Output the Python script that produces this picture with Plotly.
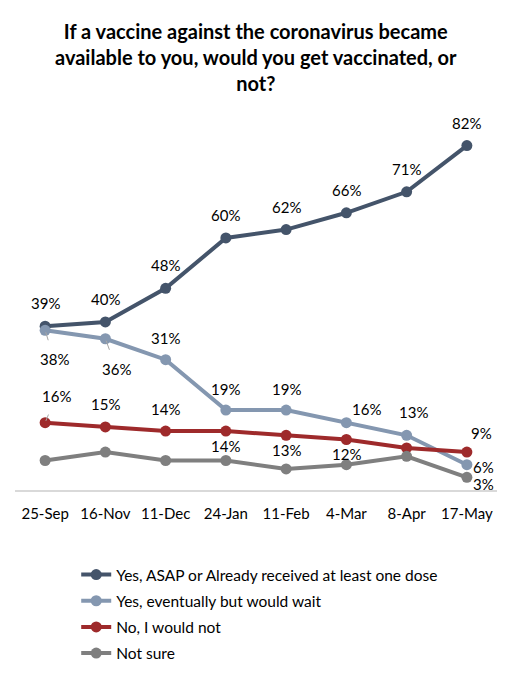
import plotly.graph_objects as go

categories = ["25-Sep", "16-Nov", "11-Dec", "24-Jan", "11-Feb", "4-Mar", "8-Apr", "17-May"]
asap = [39, 40, 48, 60, 62, 66, 71, 82]
eventually = [38, 36, 31, 19, 19, 16, 13, 6]
no_vals = [16, 15, 14, 14, 13, 12, 10, 9]
not_sure = [7, 9, 7, 7, 5, 6, 8, 3]

series_names = ["Yes, ASAP or Already received at least one dose",
                "Yes, eventually but would wait",
                "No, I would not",
                "Not sure"]
series_values = [asap, eventually, no_vals, not_sure]
series_colors = ["#44546A", "#8497B0", "#9E2A2B", "#7F7F7F"]

title_text = ("If a vaccine against the coronavirus became<br>"
              "available to you, would you get vaccinated, or<br>not?")

# which labels are shown per series
label_show = [
    [True] * 8,
    [True] * 8,
    [True, True, True, True, True, True, False, True],
    [False] * 7 + [True],
]
# label offsets in pixels (dx, dy) -- style only
label_offsets = [
    [(0, 23)] * 8,
    [(9, -29), (11, -30), (0, 22), (0, 21), (0, 21), (20, 14), (7, 23), (17, -2)],
    [(11, 27), (0, 23), (0, 22), (0, -15), (0, -15), (0, -14), (0, 0), (15, 19)],
    [(0, 0)] * 7 + [(17, -7)],
]
leader = {(1, 0), (1, 1), (2, 0)}

FONT = "Lato"

fig = go.Figure()
for i, (name, vals, col) in enumerate(zip(series_names, series_values, series_colors)):
    fig.add_trace(go.Scatter(
        x=categories, y=vals, name=name, mode="lines+markers",
        line=dict(color=col, width=4),
        marker=dict(color=col, size=11),
        legendgroup=f"g{i}",
        cliponaxis=False,
    ))

annotations = []
for si, vals in enumerate(series_values):
    for ci, v in enumerate(vals):
        if not label_show[si][ci]:
            continue
        dx, dy = label_offsets[si][ci]
        if (si, ci) in leader:
            annotations.append(dict(
                x=categories[ci], y=v, xref="x", yref="y",
                text=f"{v}%", showarrow=True, ax=dx, ay=-dy,
                arrowhead=0, arrowwidth=1, arrowcolor="#A6A6A6",
                standoff=2, startstandoff=9,
                font=dict(family=FONT, size=15, color="#000000"),
            ))
        else:
            annotations.append(dict(
                x=categories[ci], y=v, xref="x", yref="y",
                text=f"{v}%", showarrow=False, xshift=dx, yshift=dy,
                font=dict(family=FONT, size=15, color="#000000"),
            ))

annotations.append(dict(
    text=title_text, xref="paper", yref="paper", x=0.5, y=1.172,
    xanchor="center", yanchor="top", showarrow=False,
    font=dict(family=FONT, size=20, color="#000000", weight="bold"),
))

fig.update_layout(
    width=508, height=680,
    paper_bgcolor="white", plot_bgcolor="white",
    margin=dict(l=15, r=11, t=112, b=10),
    xaxis=dict(
        type="category", showgrid=False, showline=True, linecolor="#D9D9D9", linewidth=2,
        ticks="outside", ticklen=9, tickcolor="rgba(0,0,0,0)",
        tickfont=dict(family=FONT, size=15, color="#000000"),
        range=[-0.5, 7.5], fixedrange=True, automargin=False,
    ),
    yaxis=dict(
        range=[0, 90], domain=[0.3154, 1], showgrid=False, showline=False,
        showticklabels=False, zeroline=False, fixedrange=True, automargin=False,
    ),
    legend=dict(
        x=0.127, xanchor="left", y=0.192, yanchor="top",
        font=dict(family=FONT, size=15.5, color="#000000"),
        tracegroupgap=3, itemwidth=30,
        bgcolor="rgba(0,0,0,0)",
    ),
    annotations=annotations,
    showlegend=True,
)

fig.write_html("out.html", config={"displayModeBar": False},
               post_script="document.body.style.margin='0';")
